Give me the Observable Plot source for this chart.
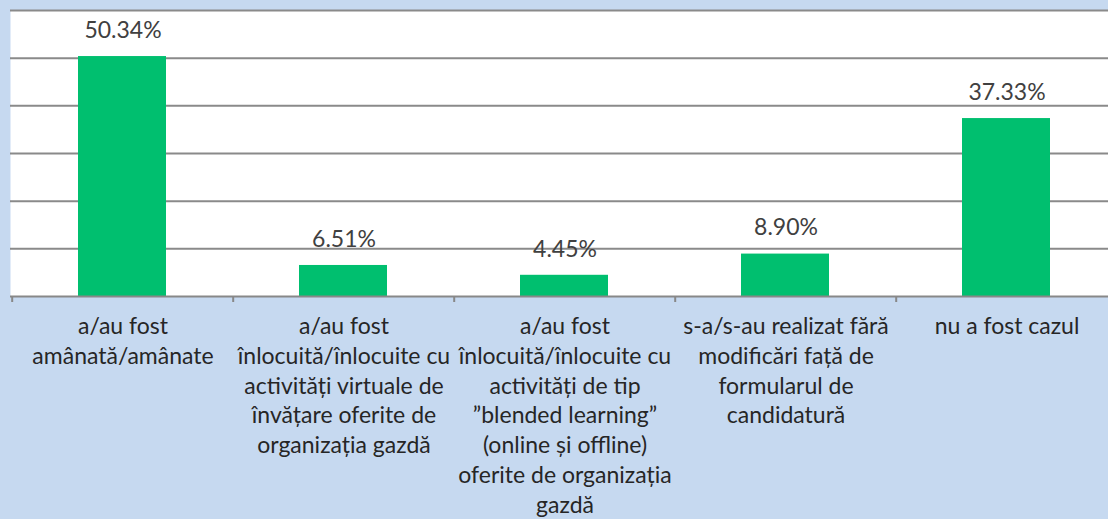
<!DOCTYPE html>
<html>
<head>
<meta charset="utf-8">
<script src="https://cdn.jsdelivr.net/npm/d3@7"></script>
<script src="https://cdn.jsdelivr.net/npm/@observablehq/plot@0.6"></script>
<style>
  html, body { margin: 0; padding: 0; background: #c6d9f0; overflow: hidden; }
  #chart svg { display: block; }
</style>
</head>
<body>
<div id="chart"></div>
<script>
const categories = [
  "a/au fost\namânată/amânate",
  "a/au fost\nînlocuită/înlocuite cu\nactivități virtuale de\nînvățare oferite de\norganizația gazdă",
  "a/au fost\nînlocuită/înlocuite cu\nactivități de tip\n”blended learning”\n(online și offline)\noferite de organizația\ngazdă",
  "s-a/s-au realizat fără\nmodificări față de\nformularul de\ncandidatură",
  "nu a fost cazul"
];
const values = [50.34, 6.51, 4.45, 8.90, 37.33];
const valueLabels = ["50.34%", "6.51%", "4.45%", "8.90%", "37.33%"];
const gridTicks = [10, 20, 30, 40, 50, 60];

const data = categories.map((c, i) => ({category: c, value: values[i], label: valueLabels[i]}));

const W = 1108, H = 519;
const bandW = W / categories.length; // range is [10, 1118]

const chart = Plot.plot({
  width: W,
  height: H,
  marginLeft: 10,
  marginRight: -10,
  marginTop: 10,
  marginBottom: 223,
  style: {background: "#c6d9f0", fontFamily: "Lato, 'Open Sans', sans-serif"},
  x: {domain: categories, padding: 0, label: null},
  y: {domain: [0, 60], axis: null},
  marks: [
    Plot.frame({fill: "white", stroke: "none"}),
    Plot.gridY(gridTicks, {stroke: "#8a8a8a", strokeOpacity: 1, strokeWidth: 2}),
    Plot.barY(data, {x: "category", y: "value", fill: "#00bf6f", insetLeft: 66, insetRight: 67}),
    Plot.ruleY([0], {stroke: "#888888", strokeWidth: 2}),
    Plot.axisX({tickSize: 6, tickFormat: () => "", dx: -bandW / 2, stroke: "#888888", strokeWidth: 2, label: null}),
    Plot.axisX({tickSize: 0, tickPadding: 16, fontSize: 23, fontWeight: 400, lineHeight: 1.3, fill: "#262626", label: null}),
    Plot.text(data, {x: "category", y: "value", text: "label", dy: -26, fontSize: 23, fontWeight: 400, fill: "#404040"})
  ]
});
document.getElementById("chart").appendChild(chart);
</script>
</body>
</html>
